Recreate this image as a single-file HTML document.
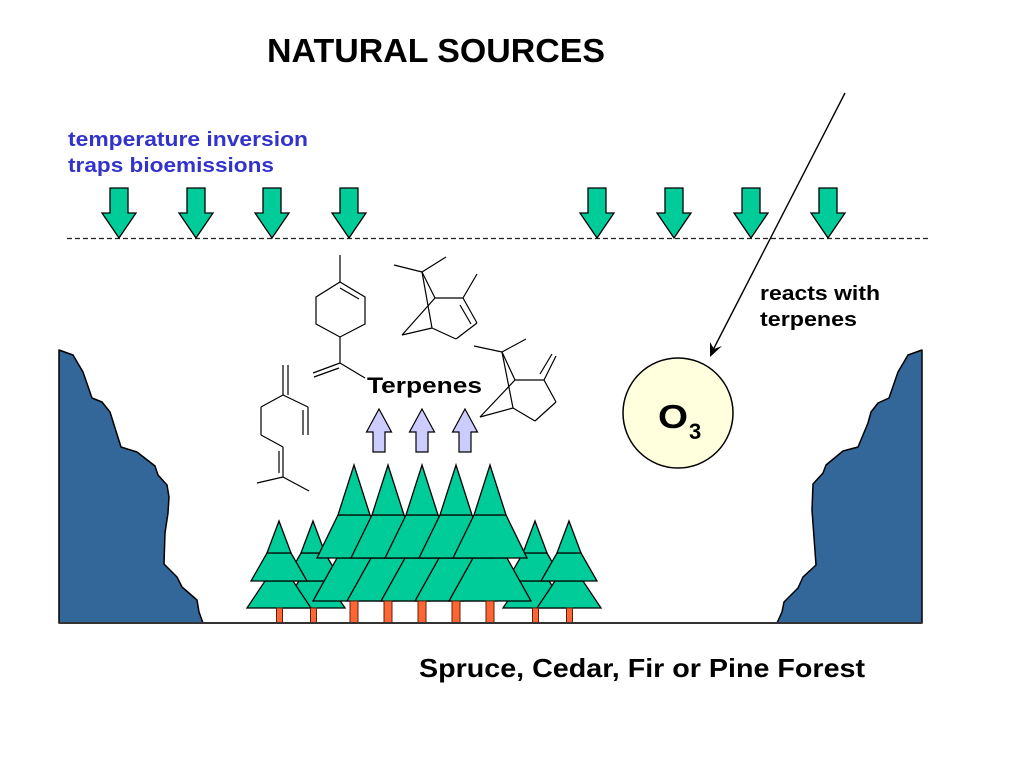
<!DOCTYPE html>
<html>
<head>
<meta charset="utf-8">
<style>
html,body{margin:0;padding:0;background:#fff;}
svg{display:block;}
text{font-family:"Liberation Sans",Arial,sans-serif;font-weight:bold;}
</style>
</head>
<body>
<svg width="1024" height="768" viewBox="0 0 1024 768" xmlns="http://www.w3.org/2000/svg">
<rect width="1024" height="768" fill="#fff"/>

<!-- Title -->
<text x="267" y="62" font-size="33" fill="#000" textLength="338" lengthAdjust="spacingAndGlyphs">NATURAL SOURCES</text>

<!-- blue text -->
<text x="68" y="146" font-size="20" fill="#3333cc" textLength="240" lengthAdjust="spacingAndGlyphs">temperature inversion</text>
<text x="68" y="172" font-size="20" fill="#3333cc" textLength="206" lengthAdjust="spacingAndGlyphs">traps bioemissions</text>

<!-- dashed inversion line -->
<line x1="67" y1="238.5" x2="930" y2="238.5" stroke="#222" stroke-width="1.3" stroke-dasharray="5,3"/>

<!-- green down arrows -->
<g fill="#00cc99" stroke="#000" stroke-width="1.3" stroke-linejoin="miter">
<polygon points="110,188 128,188 128,213 136,213 119,238 102,213 110,213"/>
<polygon points="187,188 205,188 205,213 213,213 196,238 179,213 187,213"/>
<polygon points="263,188 281,188 281,213 289,213 272,238 255,213 263,213"/>
<polygon points="340,188 358,188 358,213 366,213 349,238 332,213 340,213"/>
<polygon points="588,188 606,188 606,213 614,213 597,238 580,213 588,213"/>
<polygon points="665,188 683,188 683,213 691,213 674,238 657,213 665,213"/>
<polygon points="742,188 760,188 760,213 768,213 751,238 734,213 742,213"/>
<polygon points="819,188 837,188 837,213 845,213 828,238 811,213 819,213"/>
</g>

<!-- ozone arrow -->
<line x1="845" y1="93" x2="712" y2="352" stroke="#000" stroke-width="1.4"/>
<polygon points="710,357 710,342 714,349 722,346" fill="#000"/>

<text x="760" y="300" font-size="20" fill="#000" textLength="120" lengthAdjust="spacingAndGlyphs">reacts with</text>
<text x="760" y="326" font-size="20" fill="#000" textLength="97" lengthAdjust="spacingAndGlyphs">terpenes</text>

<!-- O3 circle -->
<circle cx="678" cy="413" r="55" fill="#ffffdd" stroke="#000" stroke-width="1.5"/>
<text x="658" y="428" font-size="33" fill="#000" textLength="30" lengthAdjust="spacingAndGlyphs">O</text>
<text x="689" y="439" font-size="22" fill="#000">3</text>

<!-- cliffs -->
<polygon fill="#336699" stroke="#000" stroke-width="1.5" stroke-linejoin="round"
 points="59,350 73,355 83,372 92,398 102,402 110,412 121,447 137,452 155,466 158,475 167,485 169,497 168,513 165,533 164,564 177,577 182,587 197,600 199,612 203,623 59,623"/>
<polygon fill="#336699" stroke="#000" stroke-width="1.5" stroke-linejoin="round"
 points="922,350 908,355 898,372 889,398 878,403 871,412 868,423 858,447 843,451 826,465 823,473 813,484 812,510 816,565 803,577 798,588 784,602 782,612 777,623 922,623"/>

<!-- molecules -->
<g fill="none" stroke="#000" stroke-width="1.2">
<!-- limonene -->
<line x1="340" y1="255" x2="340" y2="282"/>
<polygon points="340,282 365,297 365,324 340,337 316,324 316,297"/>
<line x1="340" y1="288" x2="359" y2="299"/>
<line x1="340" y1="337" x2="340" y2="363"/>
<line x1="340" y1="363" x2="313" y2="373"/>
<line x1="339" y1="368" x2="314" y2="377"/>
<line x1="340" y1="363" x2="365" y2="378"/>
<!-- bicyclic 1 -->
<line x1="422" y1="272" x2="394" y2="265"/>
<line x1="422" y1="272" x2="446" y2="257"/>
<line x1="422" y1="272" x2="435" y2="298"/>
<line x1="422" y1="272" x2="432" y2="328"/>
<line x1="435" y1="298" x2="402" y2="335"/>
<line x1="402" y1="335" x2="432" y2="328"/>
<line x1="435" y1="298" x2="463" y2="298"/>
<line x1="463" y1="298" x2="477" y2="323"/>
<line x1="460" y1="305" x2="471" y2="324"/>
<line x1="477" y1="323" x2="456" y2="339"/>
<line x1="456" y1="339" x2="432" y2="328"/>
<line x1="463" y1="298" x2="477" y2="274"/>
<!-- bicyclic 2 (camphene) -->
<line x1="502" y1="352" x2="474" y2="346"/>
<line x1="502" y1="352" x2="526" y2="339"/>
<line x1="502" y1="352" x2="515" y2="380"/>
<line x1="502" y1="352" x2="513" y2="408"/>
<line x1="515" y1="380" x2="480" y2="417"/>
<line x1="480" y1="417" x2="513" y2="408"/>
<line x1="515" y1="380" x2="544" y2="380"/>
<line x1="544" y1="380" x2="556" y2="402"/>
<line x1="556" y1="402" x2="535" y2="421"/>
<line x1="535" y1="421" x2="513" y2="408"/>
<line x1="544" y1="380" x2="556" y2="356"/>
<line x1="540" y1="374" x2="552" y2="354"/>
<!-- myrcene -->
<line x1="283" y1="365" x2="283" y2="395"/>
<line x1="288" y1="365" x2="288" y2="395"/>
<line x1="283" y1="395" x2="308" y2="407"/>
<line x1="308" y1="407" x2="308" y2="435"/>
<line x1="303" y1="410" x2="303" y2="435"/>
<line x1="283" y1="395" x2="261" y2="407"/>
<line x1="261" y1="407" x2="261" y2="435"/>
<line x1="261" y1="435" x2="283" y2="447"/>
<line x1="283" y1="447" x2="283" y2="477"/>
<line x1="279" y1="451" x2="279" y2="473"/>
<line x1="283" y1="477" x2="257" y2="483"/>
<line x1="283" y1="477" x2="309" y2="491"/>
</g>

<text x="367" y="393" font-size="22" fill="#000" textLength="115" lengthAdjust="spacingAndGlyphs">Terpenes</text>

<!-- lavender up arrows -->
<g fill="#ccccff" stroke="#000" stroke-width="1.2">
<polygon points="379,409 391.5,432 385,432 385,452 373,452 373,432 366.5,432"/>
<polygon points="422,409 434.5,432 428,432 428,452 416,452 416,432 409.5,432"/>
<polygon points="465,409 477.5,432 471,432 471,452 459,452 459,432 452.5,432"/>
</g>

<!-- trees -->
<g fill="#00cc99" stroke="#000" stroke-width="1.3" stroke-linejoin="miter">
<!-- small back left 313 -->
<polygon points="299,581 327,581 345,608 281,608"/>
<polygon points="301,553 325,553 341,581 285,581"/>
<polygon points="313,521 325,553 301,553"/>
<!-- small front left 279 -->
<polygon points="265,581 293,581 311,608 247,608"/>
<polygon points="267,553 291,553 307,581 251,581"/>
<polygon points="279,521 291,553 267,553"/>
<!-- small back right 535 -->
<polygon points="521,581 549,581 567,608 503,608"/>
<polygon points="523,553 547,553 563,581 507,581"/>
<polygon points="535,521 547,553 523,553"/>
<!-- small front right 569 -->
<polygon points="555,581 583,581 601,608 537,608"/>
<polygon points="557,553 581,553 597,581 541,581"/>
<polygon points="569,521 581,553 557,553"/>

<!-- big tier3 -->
<polygon points="337,558 371,558 395,601 313,601"/>
<polygon points="371,558 405,558 429,601 347,601"/>
<polygon points="405,558 439,558 463,601 381,601"/>
<polygon points="439,558 473,558 497,601 415,601"/>
<polygon points="473,558 507,558 531,601 449,601"/>
<!-- big tier2 -->
<polygon points="338,515 370,515 391,558 317,558"/>
<polygon points="372,515 404,515 425,558 351,558"/>
<polygon points="406,515 438,515 459,558 385,558"/>
<polygon points="440,515 472,515 493,558 419,558"/>
<polygon points="474,515 506,515 527,558 453,558"/>
<!-- big tier1 -->
<polygon points="354,465 370,515 338,515"/>
<polygon points="388,465 404,515 372,515"/>
<polygon points="422,465 438,515 406,515"/>
<polygon points="456,465 472,515 440,515"/>
<polygon points="490,465 506,515 474,515"/>
</g>

<!-- trunks -->
<g fill="#ff6633" stroke="#552211" stroke-width="1">
<rect x="276.5" y="608" width="6" height="15"/>
<rect x="310.5" y="608" width="6" height="15"/>
<rect x="532.5" y="608" width="6" height="15"/>
<rect x="566.5" y="608" width="6" height="15"/>
<rect x="350" y="601" width="8" height="22"/>
<rect x="384" y="601" width="8" height="22"/>
<rect x="418" y="601" width="8" height="22"/>
<rect x="452" y="601" width="8" height="22"/>
<rect x="486" y="601" width="8" height="22"/>
</g>

<!-- ground -->
<line x1="59" y1="623" x2="922" y2="623" stroke="#333" stroke-width="2"/>

<!-- bottom caption -->
<text x="419" y="677" font-size="26" fill="#000" textLength="446" lengthAdjust="spacingAndGlyphs">Spruce, Cedar, Fir or Pine Forest</text>
</svg>
</body>
</html>
